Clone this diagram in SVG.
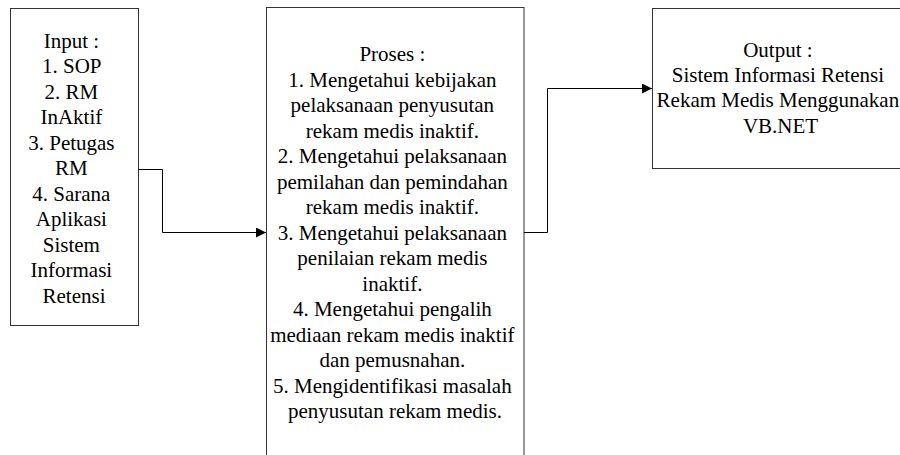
<svg xmlns="http://www.w3.org/2000/svg" width="900" height="455" viewBox="0 0 900 455">
<style>
.box{fill:#fff;stroke:#333;stroke-width:1}
.lbl{font-family:'Liberation Serif','Times New Roman',serif;font-size:21px;fill:#000;text-anchor:middle}
.con{fill:none;stroke:#000;stroke-width:1}
</style>
<defs>
<marker id="arr" markerUnits="userSpaceOnUse" markerWidth="11" markerHeight="10" refX="10" refY="5" orient="auto">
<path d="M0,0 L10,5 L0,10 Z" fill="#000"/>
</marker>
</defs>
<rect width="900" height="455" fill="#fff"/>
<g id="input">
<rect class="box" x="10.5" y="8.5" width="128" height="317"/>
<text class="lbl">
<tspan x="74" y="47.5">Input :</tspan>
<tspan x="74" y="73">1. SOP</tspan>
<tspan x="74" y="98.5">2. RM</tspan>
<tspan x="74" y="124">InAktif</tspan>
<tspan x="74" y="149.5">3. Petugas</tspan>
<tspan x="74" y="175">RM</tspan>
<tspan x="74" y="200.5">4. Sarana</tspan>
<tspan x="74" y="226">Aplikasi</tspan>
<tspan x="74" y="251.5">Sistem</tspan>
<tspan x="74" y="277">Informasi</tspan>
<tspan x="74" y="302.5">Retensi</tspan>
</text>
</g>
<g id="proses">
<rect class="box" x="266.5" y="7.5" width="257.5" height="460"/>
<text class="lbl">
<tspan x="395" y="61">Proses :</tspan>
<tspan x="395" y="86.5">1. Mengetahui kebijakan</tspan>
<tspan x="395" y="112">pelaksanaan penyusutan</tspan>
<tspan x="395" y="137.5">rekam medis inaktif.</tspan>
<tspan x="395" y="163">2. Mengetahui pelaksanaan</tspan>
<tspan x="395" y="188.5">pemilahan dan pemindahan</tspan>
<tspan x="395" y="214">rekam medis inaktif.</tspan>
<tspan x="395" y="239.5">3. Mengetahui pelaksanaan</tspan>
<tspan x="395" y="265">penilaian rekam medis</tspan>
<tspan x="395" y="290.5">inaktif.</tspan>
<tspan x="395" y="316">4. Mengetahui pengalih</tspan>
<tspan x="395" y="341.5">mediaan rekam medis inaktif</tspan>
<tspan x="395" y="367">dan pemusnahan.</tspan>
<tspan x="395" y="392.5">5. Mengidentifikasi masalah</tspan>
<tspan x="395" y="418">penyusutan rekam medis.</tspan>
</text>
</g>
<g id="output">
<rect class="box" x="652.5" y="8.5" width="257" height="160"/>
<text class="lbl">
<tspan x="780.5" y="56.7">Output :</tspan>
<tspan x="780.5" y="82">Sistem Informasi Retensi</tspan>
<tspan x="780.5" y="107.3">Rekam Medis Menggunakan</tspan>
<tspan x="780.5" y="132.5">VB.NET</tspan>
</text>
</g>
<g id="connectors">
<path class="con" d="M138.5,169.5 H162.5 V232.5 H266" marker-end="url(#arr)"/>
<path class="con" d="M524,232.5 H547.5 V88.5 H652" marker-end="url(#arr)"/>
</g>
</svg>
